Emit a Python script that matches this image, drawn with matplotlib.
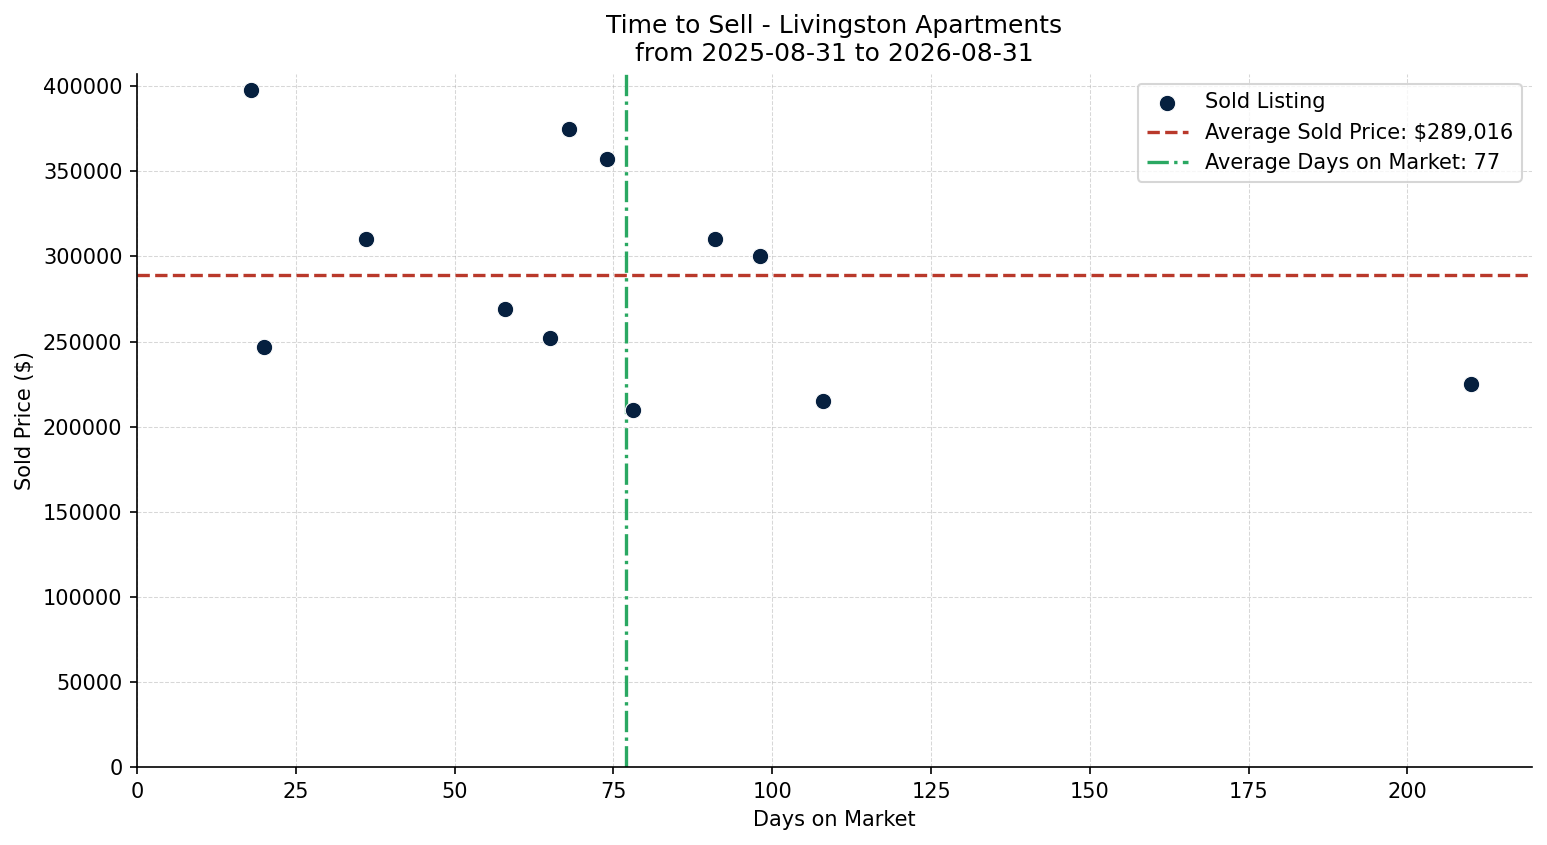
import numpy as np
import matplotlib
matplotlib.use("Agg")
import matplotlib.pyplot as plt

# Sold listings
days_on_market = [18, 20, 36, 58, 65, 68, 74, 78, 91, 98, 108, 210]
sold_price = [398000, 247000, 310000, 269000, 252000, 375000,
              357192, 210000, 310000, 300000, 215000, 225000]

title = "Time to Sell - Livingston Apartments\nfrom 2025-08-31 to 2026-08-31"

avg_price = np.mean(sold_price)
avg_days = np.mean(days_on_market)

fig = plt.figure(figsize=(1547 / 150, 845 / 150), dpi=150)
ax = fig.add_axes([0.0886, 0.0923, 0.9017, 0.8205])

ax.scatter(days_on_market, sold_price, s=62, color="#06203f",
           edgecolor="white", linewidth=0.5, label="Sold Listing", zorder=3)
ax.axhline(avg_price, color="#b9392b", linestyle="--", linewidth=1.6,
           label=f"Average Sold Price: ${avg_price:,.0f}")
ax.axvline(avg_days, color="#2aa862", linestyle="-.", linewidth=1.6,
           label=f"Average Days on Market: {avg_days:.0f}")

ax.set_xlim(left=0)
ax.set_ylim(bottom=0)
ax.set_title(title)
ax.set_xlabel("Days on Market")
ax.set_ylabel("Sold Price ($)")
ax.grid(True, linestyle="--", linewidth=0.5, alpha=0.5)
ax.spines["top"].set_visible(False)
ax.spines["right"].set_visible(False)
ax.legend(loc="upper right")

fig.savefig("out.png", dpi=150)
